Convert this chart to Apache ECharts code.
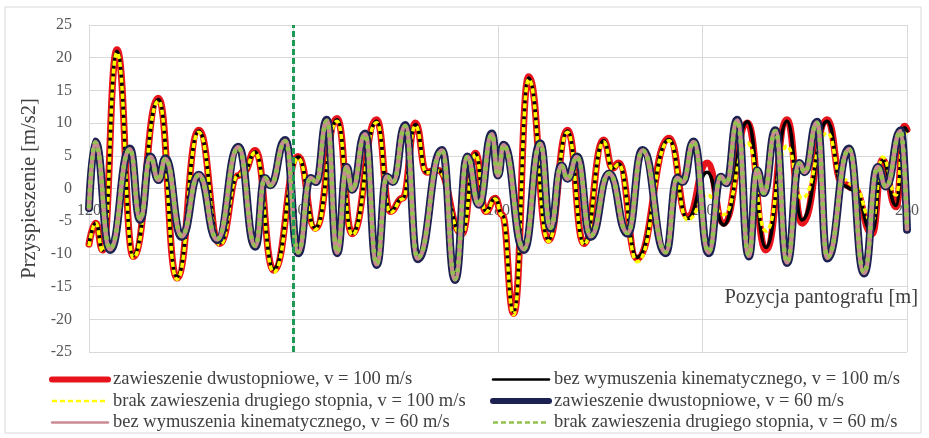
<!DOCTYPE html>
<html>
<head>
<meta charset="utf-8">
<script src="https://cdn.jsdelivr.net/npm/echarts@6/dist/echarts.min.js"></script>
<style>
  html, body { margin: 0; padding: 0; background: #fff; }
  #main { width: 929px; height: 438px; }
</style>
</head>
<body>
<div id="main"></div>
<script>
// pozycja pantografu [m] -> przyspieszenie [m/s2], punkty (ekstrema)
const pos100 = [120, 121.0, 122.0, 124.1, 126.5, 130.2, 132.9, 136.1, 139.2, 141.9, 142.7, 144.4, 147.1, 150.7, 153.2, 156.4, 158.6, 162.2, 164.2, 166.0, 167.9, 169.5, 171.2, 174.7, 176.7, 178.2, 179.6, 180.6, 182.3, 184.5, 187.4, 190.2, 192.6, 195.5, 196.8, 197.7, 200.4, 205.1, 207.8, 210.7, 213.1, 216.6, 219.3, 222.4, 224.6, 228.3, 230.5, 232.2, 234.9, 236.4, 238.4, 239.6, 240];
const red100 = [-8.5, -5.3, -9.4, 21.2, -10.4, 13.8, -13.7, 8.9, -8.4, 2.0, 2.6, 5.8, -12.5, 4.9, -6.1, 10.7, -6.9, 10.5, -3.5, -1.5, 10.0, 2.5, 2.8, -6.9, 5.4, -3.5, -1.5, -4.0, -19.1, 17.1, -7.9, 8.9, -8.4, 7.4, 3.1, 3.9, -10.7, 7.7, -4.3, 3.9, -5.3, 10.0, -9.4, 10.5, -5.3, 10.5, 0.8, 0.0, -6.9, 4.4, -2.8, 9.5, 9.0];
const black100 = [-8.5, -5.3, -9.4, 21.0, -10.2, 13.6, -13.5, 8.8, -8.3, 2.0, 2.6, 5.6, -12.3, 4.8, -6.0, 10.5, -6.8, 10.3, -3.4, -1.5, 9.8, 2.5, 2.8, -6.8, 5.3, -3.4, -1.5, -4.0, -18.8, 16.9, -7.8, 8.8, -8.3, 7.3, 3.1, 3.8, -10.5, 7.5, -4.6, 2.5, -5.6, 10.2, -9.0, 10.3, -4.8, 10.3, 0.5, -0.2, -6.6, 4.3, -2.6, 9.3, 8.8];
const yellow100 = [-8.8, -5.3, -9.6, 20.8, -10.6, 13.4, -13.9, 8.6, -8.6, 2.0, 2.6, 5.5, -12.8, 4.6, -6.3, 10.3, -7.1, 10.1, -3.7, -1.6, 9.6, 2.4, 2.7, -7.1, 5.2, -3.6, -1.6, -4.1, -19.3, 16.7, -8.1, 8.6, -8.6, 7.1, 3.0, 3.7, -11.2, 7.3, -4.8, -1.0, -4.0, 7.0, -6.5, 6.5, -1.5, 8.5, 1.5, 0.5, -5.0, 4.8, -1.0, 8.5, 8.0];

const pos60 = [120, 120.9, 123.1, 126.0, 127.5, 129.0, 130.2, 131.2, 133.6, 136.1, 138.8, 141.9, 144.4, 145.8, 146.6, 148.8, 150.7, 152.5, 153.3, 154.9, 156.4, 157.8, 158.6, 160.5, 162.2, 163.7, 164.6, 166.4, 168.2, 171.8, 173.7, 175.5, 177.2, 179.1, 180.0, 180.8, 183.8, 186.2, 187.7, 189.3, 190.2, 191.6, 193.6, 196.3, 199.0, 201.2, 204.6, 206.3, 207.1, 208.7, 210.9, 212.7, 213.5, 215.1, 216.8, 218.0, 219.0, 220.7, 222.4, 224.2, 225.0, 226.8, 228.3, 231.5, 233.7, 235.7, 236.9, 239.1, 240];
const navy60 = [-3.0, 7.2, -9.4, 6.1, -4.8, 4.9, 1.3, 4.6, -7.4, 2.1, -7.9, 6.4, -8.9, 1.6, 0.5, 7.4, -9.9, 1.6, 1.0, 10.5, -9.9, 3.3, -0.2, 8.4, -11.7, 1.8, 1.0, 9.7, -10.8, 5.9, -14.0, 4.9, -2.5, 8.4, 2.0, 6.7, -9.4, 6.9, -6.1, 3.5, 1.5, 4.9, -7.4, 2.3, -6.9, 5.9, -9.9, 1.6, 1.0, 7.2, -9.9, 1.8, 0.8, 10.5, -10.4, 2.8, -0.7, 8.9, -11.4, 3.9, 2.5, 10.2, -10.7, 6.1, -13.0, 3.3, 0.3, 8.9, -6.3];
const pink60 = [-3.0, 7.1, -9.3, 6.0, -4.7, 4.8, 1.3, 4.5, -7.3, 2.1, -7.8, 6.3, -8.8, 1.6, 0.5, 7.3, -9.8, 1.6, 1.0, 10.4, -9.8, 3.3, -0.2, 8.3, -11.6, 1.8, 1.0, 9.6, -10.7, 5.8, -13.9, 4.8, -2.5, 8.3, 2.0, 6.6, -9.3, 6.8, -6.0, 3.5, 1.5, 4.8, -7.3, 2.3, -6.8, 5.8, -9.8, 1.6, 1.0, 7.1, -9.8, 1.8, 0.8, 10.4, -10.3, 2.8, -0.7, 8.8, -11.3, 3.9, 2.5, 10.1, -10.6, 6.0, -12.9, 3.3, 0.3, 8.8, -6.2];
const green60 = [-3.0, 7.0, -9.2, 6.0, -4.7, 4.8, 1.3, 4.5, -7.2, 2.0, -7.7, 6.2, -8.7, 1.6, 0.5, 7.2, -9.7, 1.6, 1.0, 10.3, -9.7, 3.2, -0.2, 8.2, -11.5, 1.8, 1.0, 9.5, -10.6, 5.8, -13.8, 4.8, -2.4, 8.2, 2.0, 6.6, -9.2, 6.8, -6.0, 3.4, 1.5, 4.8, -7.2, 2.3, -6.8, 5.8, -9.7, 1.6, 1.0, 7.1, -9.7, 1.8, 0.8, 10.3, -10.2, 2.8, -0.7, 8.8, -11.2, 3.8, 2.5, 10.0, -10.5, 6.0, -12.8, 3.2, 0.3, 8.7, -6.2];

const names = [
  'zawieszenie dwustopniowe, v = 100 m/s',
  'bez wymuszenia kinematycznego, v = 100 m/s',
  'brak zawieszenia drugiego stopnia, v = 100 m/s',
  'zawieszenie dwustopniowe, v = 60 m/s',
  'bez wymuszenia kinematycznego, v = 60 m/s',
  'brak zawieszenia drugiego stopnia, v = 60 m/s'
];
const colors = ['#e8141c', '#000000', '#ffff00', '#1b2150', '#c98a92', '#93c250'];

const serif = '"Liberation Serif", "Times New Roman", serif';

function pairs(xs, ys) {
  return xs.map((x, i) => [x, ys[i]]);
}

function line(i, xs, ys, width, dash) {
  return {
    name: names[i],
    type: 'line',
    data: pairs(xs, ys),
    symbol: 'none',
    smooth: 0.5,
    smoothMonotone: 'x',
    lineStyle: { color: colors[i], width: width, type: dash || 'solid', join: 'round', cap: dash ? 'butt' : 'round' },
    itemStyle: { color: colors[i] },
    emphasis: { disabled: true }
  };
}

// wpis legendy z własną grubością linii
function legendItem(i, width, dash) {
  return {
    name: names[i],
    lineStyle: { color: colors[i], width: width, type: dash || 'solid', cap: dash ? 'butt' : 'round' }
  };
}

const chart = echarts.init(document.getElementById('main'));

const series = [
  line(0, pos100, red100, 7),
  line(1, pos100, black100, 3.5),
  line(2, pos100, yellow100, 3.5, [5, 3]),
  line(3, pos60, navy60, 8),
  line(4, pos60, pink60, 4.5),
  line(5, pos60, green60, 4.5, [4, 4])
];

// pionowa linia przy 150 m
series[5].markLine = {
  silent: true,
  symbol: 'none',
  label: { show: false },
  lineStyle: { color: '#1f9a55', width: 3, type: [6, 3] },
  data: [{ xAxis: 150 }]
};

const legendBase = {
  orient: 'vertical',
  top: 370,
  itemWidth: 56,
  itemHeight: 14,
  itemGap: 2.5,
  padding: 0,
  selectedMode: false,
  itemStyle: { opacity: 0 },
  textStyle: { fontFamily: serif, fontSize: 18.5, color: '#404040', lineHeight: 18.5 }
};

chart.setOption({
  animation: false,
  backgroundColor: '#ffffff',
  grid: { left: 89, right: 22, top: 25, bottom: 86 },
  legend: [
    Object.assign({}, legendBase, {
      left: 49,
      data: [legendItem(0, 6), legendItem(2, 2.5, [5, 3]), legendItem(4, 2.5)]
    }),
    Object.assign({}, legendBase, {
      left: 490,
      data: [legendItem(1, 2.5), legendItem(3, 6), legendItem(5, 2.5, [5, 3])]
    })
  ],
  xAxis: {
    type: 'value',
    min: 120,
    max: 240,
    interval: 30,
    offset: -163.5,
    axisLine: { onZero: false, lineStyle: { color: '#d9d9d9', width: 1 } },
    axisTick: { show: false },
    axisLabel: { fontFamily: serif, fontSize: 16, color: '#595959', margin: 14 },
    splitLine: { show: true, lineStyle: { color: '#d9d9d9', width: 1 } }
  },
  yAxis: {
    type: 'value',
    min: -25,
    max: 25,
    interval: 5,
    name: 'Przyspieszenie [m/s2]',
    nameLocation: 'middle',
    nameGap: 44,
    nameTextStyle: { fontFamily: serif, fontSize: 20.5, color: '#404040' },
    axisLine: { show: false },
    axisTick: { show: false },
    axisLabel: { fontFamily: serif, fontSize: 16, color: '#595959', margin: 17 },
    splitLine: { show: true, lineStyle: { color: '#d9d9d9', width: 1 } }
  },
  graphic: [
    {
      type: 'rect',
      shape: { x: 5, y: 7, width: 916, height: 426 },
      style: { fill: 'none', stroke: '#d9d9d9', lineWidth: 1 },
      silent: true
    },
    {
      type: 'text',
      x: 918,
      y: 298,
      style: {
        text: 'Pozycja pantografu [m]',
        fontFamily: serif,
        fontSize: 20.5,
        fill: '#404040',
        align: 'right',
        verticalAlign: 'middle'
      },
      z: 10
    }
  ],
  series: series
});
</script>
</body>
</html>
